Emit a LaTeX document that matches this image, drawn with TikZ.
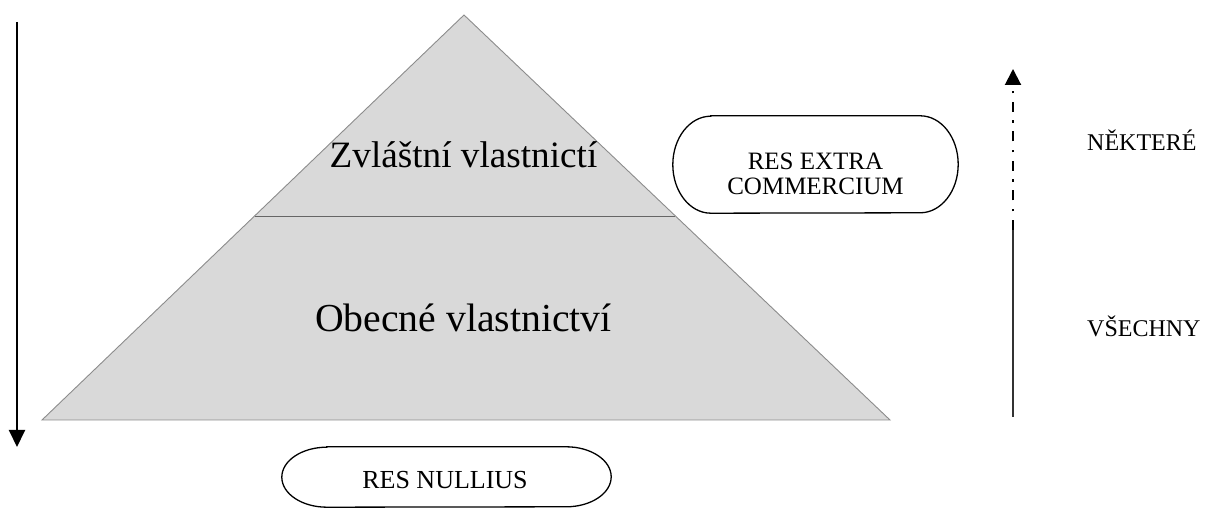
\documentclass[tikz,border=0pt]{standalone}
\usepackage{fontspec}
\setmainfont{Liberation Serif}
\usetikzlibrary{arrows.meta,calc}
\begin{document}
\begin{tikzpicture}[x=1pt,y=1pt,
  pyr/.style={fill=black!15,draw=black!45,line width=0.9pt},
  divline/.style={draw=black!60,line width=0.9pt},
  bigtext/.style={inner sep=0pt},
  smalltext/.style={inner sep=0pt},
  termline/.style={draw=black,line width=1.3pt},
  arr/.style={line width=2pt,-{Triangle[length=17pt,width=16pt]}},
  dashdot/.style={line width=2pt,dash pattern=on 10pt off 8.5pt on 2.5pt off 8.5pt,-{Triangle[length=16pt,width=16pt]}},
  thinline/.style={line width=1.3pt,draw=black!80}]
\useasboundingbox (0,0) rectangle (1213,508);
% pyramid
\coordinate (apex) at (464,493);
\coordinate (bl) at (42,88);
\coordinate (br) at (890,88);
\path[pyr] (apex) -- (br) -- (bl) -- cycle;
\coordinate (dl) at ($(apex)!0.4963!(bl)$);
\coordinate (dr) at ($(apex)!0.4963!(br)$);
\draw[divline] (dl) -- (dr);
\node[bigtext,anchor=base,font=\fontsize{37.2}{44}\selectfont] (zv) at (463.5,340) {Zvláštní vlastnictí};
\node[bigtext,anchor=base,font=\fontsize{39.7}{46}\selectfont] (ob) at (463.5,176) {Obecné vlastnictví};
% left arrow
\coordinate (lt) at (17,486);
\coordinate (lb) at (17,61);
\draw[arr] (lt) -- (lb);
% right arrow
\coordinate (rb) at (1013,91);
\coordinate (rm) at (1013,278);
\coordinate (rt) at (1013,439);
\draw[thinline] (rb) -- (rm);
\draw[dashdot] (rm) -- (rt);
% RES EXTRA COMMERCIUM
\node[minimum width=285pt,minimum height=97pt,inner sep=0pt] (rec) at (815.5,343.5) {};
\draw[termline] ([xshift=38pt]rec.north west) -- ([xshift=-38pt]rec.north east)
  arc[start angle=90,end angle=-90,x radius=38pt,y radius=48.5pt]
  -- ([xshift=38pt]rec.south west)
  arc[start angle=270,end angle=90,x radius=38pt,y radius=48.5pt] -- cycle;
\node[smalltext,align=center,anchor=base,font=\fontsize{25}{25}\selectfont] (rect) at (815.5,313) {RES EXTRA\\COMMERCIUM};
% RES NULLIUS
\node[minimum width=329pt,minimum height=60pt,inner sep=0pt] (rn) at (446.5,31) {};
\draw[termline] ([xshift=45pt]rn.north west) -- ([xshift=-45pt]rn.north east)
  arc[start angle=90,end angle=-90,x radius=45pt,y radius=30pt]
  -- ([xshift=45pt]rn.south west)
  arc[start angle=270,end angle=90,x radius=45pt,y radius=30pt] -- cycle;
\node[smalltext,anchor=base,font=\fontsize{26}{28}\selectfont] (rnt) at (445,19) {RES NULLIUS};
% side labels
\node[smalltext,anchor=base west,font=\fontsize{24}{26}\selectfont] (nek) at (1087,357) {NĚKTERÉ};
\node[smalltext,anchor=base west,font=\fontsize{24}{26}\selectfont] (vse) at (1087,171) {VŠECHNY};
\end{tikzpicture}
\end{document}
